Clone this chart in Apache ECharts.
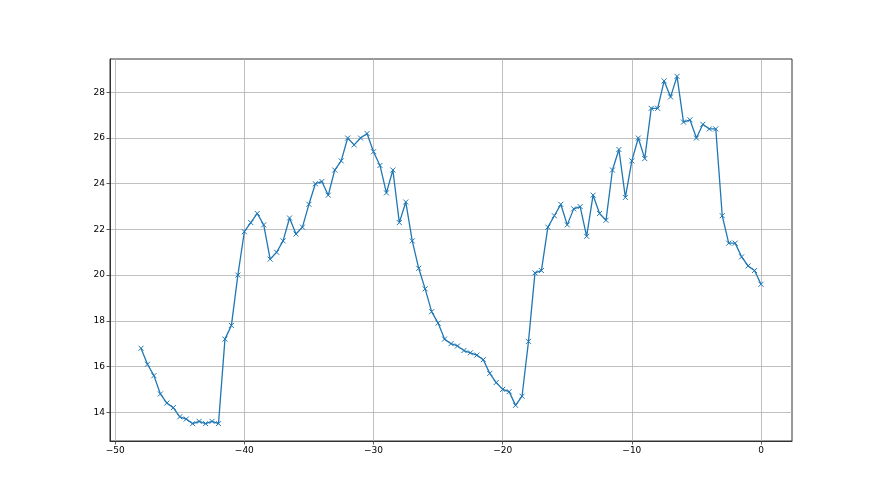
<!DOCTYPE html>
<html>
<head>
<meta charset="utf-8">
<script src="https://cdn.jsdelivr.net/npm/echarts@6/dist/echarts.min.js"></script>
<style>
  html, body { margin: 0; padding: 0; background: #fff; }
  #chart { width: 880px; height: 495px; }
</style>
</head>
<body>
<div id="chart"></div>
<script>
// x positions: -48 .. 0 in steps of 0.5
const xValues = [
  -48, -47.5, -47, -46.5, -46, -45.5, -45, -44.5, -44, -43.5,
  -43, -42.5, -42, -41.5, -41, -40.5, -40, -39.5, -39, -38.5,
  -38, -37.5, -37, -36.5, -36, -35.5, -35, -34.5, -34, -33.5,
  -33, -32.5, -32, -31.5, -31, -30.5, -30, -29.5, -29, -28.5,
  -28, -27.5, -27, -26.5, -26, -25.5, -25, -24.5, -24, -23.5,
  -23, -22.5, -22, -21.5, -21, -20.5, -20, -19.5, -19, -18.5,
  -18, -17.5, -17, -16.5, -16, -15.5, -15, -14.5, -14, -13.5,
  -13, -12.5, -12, -11.5, -11, -10.5, -10, -9.5, -9, -8.5,
  -8, -7.5, -7, -6.5, -6, -5.5, -5, -4.5, -4, -3.5,
  -3, -2.5, -2, -1.5, -1, -0.5, 0
]
const yValues = [
  16.8, 16.1, 15.6, 14.8, 14.4, 14.2, 13.8, 13.7, 13.5, 13.6,
  13.5, 13.6, 13.5, 17.2, 17.8, 20.0, 21.9, 22.3, 22.7, 22.2,
  20.7, 21.0, 21.5, 22.5, 21.8, 22.1, 23.1, 24.0, 24.1, 23.5,
  24.6, 25.0, 26.0, 25.7, 26.0, 26.2, 25.4, 24.8, 23.6, 24.6,
  22.3, 23.2, 21.5, 20.3, 19.4, 18.4, 17.9, 17.2, 17.0, 16.9,
  16.7, 16.6, 16.5, 16.3, 15.7, 15.3, 15.0, 14.9, 14.3, 14.7,
  17.1, 20.1, 20.2, 22.1, 22.6, 23.1, 22.2, 22.9, 23.0, 21.7,
  23.5, 22.7, 22.4, 24.6, 25.5, 23.4, 25.0, 26.0, 25.1, 27.3,
  27.3, 28.5, 27.8, 28.7, 26.7, 26.8, 26.0, 26.6, 26.4, 26.4,
  22.6, 21.4, 21.4, 20.8, 20.4, 20.2, 19.6
]
const xTicks = [-50, -40, -30, -20, -10, 0]
const yTicks = [14, 16, 18, 20, 22, 24, 26, 28]

const points = xValues.map((x, i) => [x, yValues[i]])
const fmt = v => String(v).replace('-', '\u2212')

const axisCommon = {
  axisLine: { show: true, onZero: false, lineStyle: { color: '#333', width: 1 } },
  axisTick: { show: true, length: 3.5, lineStyle: { color: '#333', width: 0.8 } },
  splitLine: { show: true, lineStyle: { color: '#b0b0b0', width: 0.8 } },
  axisLabel: { color: '#000', fontFamily: 'DejaVu Sans', fontSize: 9, margin: 5, formatter: fmt }
}

const chart = echarts.init(document.getElementById('chart'))
chart.setOption({
  animation: false,
  backgroundColor: '#fff',
  grid: {
    left: 110, right: 88, top: 59, bottom: 54,
    show: true, borderColor: '#333', borderWidth: 1, backgroundColor: 'transparent'
  },
  xAxis: {
    type: 'value',
    min: -50.4,
    max: 2.4,
    ...axisCommon,
    axisTick: { ...axisCommon.axisTick, customValues: xTicks },
    axisLabel: { ...axisCommon.axisLabel, customValues: xTicks }
  },
  yAxis: {
    type: 'value',
    min: 12.74,
    max: 29.46,
    ...axisCommon,
    axisTick: { ...axisCommon.axisTick, customValues: yTicks },
    axisLabel: { ...axisCommon.axisLabel, customValues: yTicks }
  },
  series: [
    {
      type: 'line',
      data: points,
      symbol: 'path://M0,0L10,10M10,0L0,10',
      symbolSize: 5,
      showAllSymbol: true,
      lineStyle: { color: '#1f77b4', width: 1.3 },
      itemStyle: { color: 'rgba(0,0,0,0)', borderColor: '#1f77b4', borderWidth: 1 }
    }
  ]
})
</script>
</body>
</html>
